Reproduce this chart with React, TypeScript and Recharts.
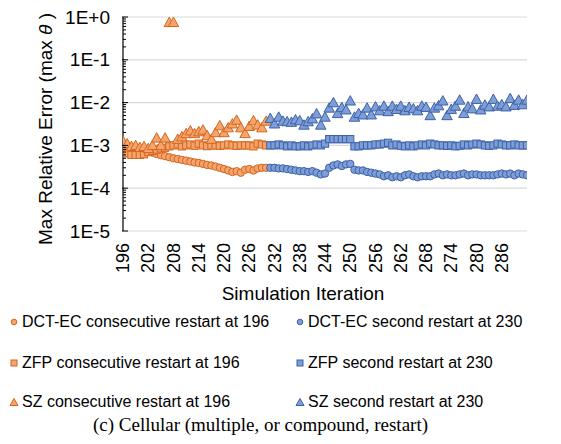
import React from 'react';
import { ScatterChart, Scatter, XAxis, YAxis, CartesianGrid } from 'recharts';

// Iteration at which each restart run begins
const firstRestartStart = 196;
const secondRestartStart = 231;

// Max relative error per iteration, consecutive restart at 196 (196..230)
const dctFirst = [
  9.5e-4, 9.2e-4, 9.0e-4, 8.7e-4, 8.3e-4, 7.8e-4, 7.3e-4, 6.8e-4, 6.3e-4, 5.9e-4,
  5.6e-4, 5.3e-4, 5.0e-4, 4.8e-4, 4.6e-4, 4.4e-4, 4.2e-4, 4.0e-4, 3.9e-4, 3.7e-4,
  3.5e-4, 3.4e-4, 3.2e-4, 3.0e-4, 2.8e-4, 2.6e-4, 2.4e-4, 2.5e-4, 2.3e-4, 2.7e-4,
  2.8e-4, 2.6e-4, 2.9e-4, 3.0e-4, 3.0e-4,
];
const zfpFirst = [
  8.5e-4, 6.5e-4, 6.0e-4, 6.0e-4, 6.0e-4, 6.2e-4, 7.0e-4, 7.5e-4, 8.0e-4, 8.5e-4,
  8.8e-4, 9.5e-4, 1.0e-3, 1.05e-3, 9.5e-4, 1.0e-3, 1.05e-3, 9.8e-4, 1.1e-3, 1.0e-3,
  9.6e-4, 1.0e-3, 1.0e-3, 9.8e-4, 1.0e-3, 1.05e-3, 1.0e-3, 9.8e-4, 1.0e-3, 1.0e-3,
  1.0e-3, 9.5e-4, 1.1e-3, 1.05e-3, 1.0e-3,
];
const szFirst = [
  1.25e-3, 1.1e-3, 9.5e-4, 1.0e-3, 9.0e-4, 9.5e-4, 8.5e-4, 1.0e-3, 1.5e-3, 1.0e-3,
  1.5e-3, 0.75, 0.75, 1.4e-3, 1.6e-3, 1.9e-3, 2.2e-3, 1.9e-3, 2.1e-3, 2.3e-3,
  1.7e-3, 1.4e-3, 2.0e-3, 2.9e-3, 2.0e-3, 2.6e-3, 3.2e-3, 3.9e-3, 2.6e-3, 1.9e-3,
  2.8e-3, 3.8e-3, 3.0e-3, 2.6e-3, 3.7e-3,
];

// Max relative error per iteration, second restart at 230 (231..292)
const dctSecond = [
  3.0e-4, 3.0e-4, 2.9e-4, 2.9e-4, 2.8e-4, 2.7e-4, 2.6e-4, 2.5e-4, 2.5e-4, 2.4e-4,
  2.5e-4, 2.3e-4, 2.1e-4, 2.2e-4, 3.0e-4, 3.4e-4, 3.6e-4, 3.3e-4, 3.6e-4, 3.7e-4,
  2.7e-4, 2.6e-4, 2.6e-4, 2.4e-4, 2.3e-4, 2.2e-4, 2.1e-4, 1.9e-4, 2.0e-4, 1.8e-4,
  1.9e-4, 1.8e-4, 2.0e-4, 2.1e-4, 1.9e-4, 1.8e-4, 1.9e-4, 1.9e-4, 1.9e-4, 2.1e-4,
  2.2e-4, 2.0e-4, 2.1e-4, 2.0e-4, 2.0e-4, 2.1e-4, 2.2e-4, 2.0e-4, 2.1e-4, 2.1e-4,
  2.0e-4, 2.0e-4, 2.0e-4, 2.0e-4, 2.1e-4, 2.2e-4, 2.1e-4, 2.2e-4, 2.0e-4, 2.2e-4,
  2.1e-4, 2.0e-4,
];
const zfpSecond = [
  1.0e-3, 1.0e-3, 1.05e-3, 1.0e-3, 9.5e-4, 1.0e-3, 9.5e-4, 9.5e-4, 1.0e-3, 9.5e-4,
  1.0e-3, 1.05e-3, 1.0e-3, 1.1e-3, 1.4e-3, 1.4e-3, 1.4e-3, 1.4e-3, 1.4e-3, 1.4e-3,
  9.5e-4, 9.5e-4, 1.0e-3, 1.0e-3, 1.0e-3, 1.05e-3, 1.05e-3, 1.1e-3, 1.15e-3, 1.0e-3,
  1.05e-3, 9.8e-4, 9.5e-4, 1.0e-3, 9.5e-4, 1.0e-3, 1.05e-3, 1.0e-3, 1.1e-3, 1.05e-3,
  1.0e-3, 1.0e-3, 9.8e-4, 1.0e-3, 9.5e-4, 9.8e-4, 1.05e-3, 1.0e-3, 1.05e-3, 1.1e-3,
  1.05e-3, 1.0e-3, 9.8e-4, 1.0e-3, 1.1e-3, 1.05e-3, 1.0e-3, 1.0e-3, 1.05e-3, 1.0e-3,
  1.0e-3, 1.0e-3,
];
const szSecond = [
  4.3e-3, 3.2e-3, 4.6e-3, 3.7e-3, 3.6e-3, 3.5e-3, 4.0e-3, 3.8e-3, 3.0e-3, 3.6e-3,
  4.2e-3, 5.5e-3, 3.0e-3, 4.6e-3, 7.5e-3, 1.0e-2, 5.6e-3, 7.7e-3, 6.8e-3, 1.1e-2,
  4.6e-3, 5.6e-3, 5.2e-3, 7.5e-3, 5.2e-3, 8.0e-3, 6.5e-3, 8.3e-3, 6.2e-3, 8.3e-3,
  7.0e-3, 8.3e-3, 6.5e-3, 7.8e-3, 7.2e-3, 6.5e-3, 8.3e-3, 7.8e-3, 5.0e-3, 7.5e-3,
  8.5e-3, 1.1e-2, 5.0e-3, 7.0e-3, 8.3e-3, 1.15e-2, 5.6e-3, 8.0e-3, 7.2e-3, 1.2e-2,
  6.8e-3, 8.8e-3, 8.0e-3, 1.2e-2, 8.3e-3, 9.0e-3, 8.0e-3, 1.25e-2, 8.7e-3, 1.15e-2,
  9.0e-3, 1.15e-2,
];

const xTicks = [196, 202, 208, 214, 220, 226, 232, 238, 244, 250, 256, 262, 268, 274, 280, 286];
const yTicks = [1e-5, 1e-4, 1e-3, 1e-2, 1e-1, 1];
const yMinorTicks = [
  2e-5, 3e-5, 4e-5, 5e-5, 6e-5, 7e-5, 8e-5, 9e-5,
  2e-4, 3e-4, 4e-4, 5e-4, 6e-4, 7e-4, 8e-4, 9e-4,
  2e-3, 3e-3, 4e-3, 5e-3, 6e-3, 7e-3, 8e-3, 9e-3,
  2e-2, 3e-2, 4e-2, 5e-2, 6e-2, 7e-2, 8e-2, 9e-2,
  2e-1, 3e-1, 4e-1, 5e-1, 6e-1, 7e-1, 8e-1, 9e-1,
];
const allYTicks = [...yTicks, ...yMinorTicks].sort((a, b) => a - b);

const toPoints = (start: number, values: number[]) =>
  values.map((err, i) => ({ iter: start + i, err }));

const ORANGE = { fill: '#F4A46C', stroke: '#D4661E' };
const BLUE = { fill: '#7E9ED8', stroke: '#3D61A8' };
const FONT = "'Liberation Sans', Arial, sans-serif";

type Colors = { fill: string; stroke: string };

const circleShape = (c: Colors) => (p: any) =>
  <circle cx={p.cx} cy={p.cy} r={3.7} fill={c.fill} stroke={c.stroke} strokeWidth={1} />;
const squareShape = (c: Colors) => (p: any) =>
  <rect x={p.cx - 3.6} y={p.cy - 3.6} width={7.2} height={7.2} fill={c.fill} stroke={c.stroke} strokeWidth={1} />;
const triangleShape = (c: Colors) => (p: any) =>
  <polygon
    points={`${p.cx},${p.cy - 5.2} ${p.cx + 5.2},${p.cy + 4.2} ${p.cx - 5.2},${p.cy + 4.2}`}
    fill={c.fill} stroke={c.stroke} strokeWidth={1}
  />;

const isDecade = (v: number) => yTicks.some((t) => Math.abs(t - v) / t < 1e-9);

const formatPow = (v: number) => {
  const e = Math.round(Math.log10(v));
  return `1E${e >= 0 ? '+' + e : e}`;
};

// Decade ticks get a label and a longer mark; the log-minor ticks only a short mark
const YTick = (p: any) => {
  const v = p.payload.value;
  if (!isDecade(v)) {
    return <line x1={p.x + 13} x2={p.x + 16} y1={p.y} y2={p.y} stroke="#000" strokeWidth={1} />;
  }
  return (
    <g>
      <text x={p.x} y={p.y} textAnchor="end" dominantBaseline="central" fontSize={19} fontFamily={FONT} fill="#000">
        {formatPow(v)}
      </text>
      <line x1={p.x + 12} x2={p.x + 18} y1={p.y} y2={p.y} stroke="#000" strokeWidth={1} />
    </g>
  );
};

const XTick = (p: any) => (
  <text
    transform={`translate(${p.x},${p.y}) rotate(-90)`}
    textAnchor="end" dominantBaseline="central"
    fontSize={18} fontFamily={FONT} fill="#000"
  >
    {p.payload.value}
  </text>
);

const YTitle = (p: any) => {
  const vb = p.viewBox;
  const cx = vb.x + 45;
  const cy = vb.y + vb.height / 2 + 5;
  return (
    <text
      transform={`translate(${cx},${cy}) rotate(-90)`}
      textAnchor="middle" dominantBaseline="central"
      fontSize={19} fontFamily={FONT} fill="#000"
    >
      Max Relative Error (max <tspan fontStyle="italic">θ</tspan> )
    </text>
  );
};

const XTitle = (p: any) => {
  const vb = p.viewBox;
  return (
    <text
      x={vb.x + vb.width / 2 - 22} y={vb.y + 62}
      textAnchor="middle" dominantBaseline="central"
      fontSize={19} fontFamily={FONT} fill="#000"
    >
      Simulation Iteration
    </text>
  );
};

const legendItems = [
  { label: 'DCT-EC consecutive restart at 196', shape: 'circle', c: ORANGE, col: 0, row: 0 },
  { label: 'DCT-EC second restart at 230', shape: 'circle', c: BLUE, col: 1, row: 0 },
  { label: 'ZFP consecutive restart at 196', shape: 'square', c: ORANGE, col: 0, row: 1 },
  { label: 'ZFP second restart at 230', shape: 'square', c: BLUE, col: 1, row: 1 },
  { label: 'SZ consecutive restart at 196', shape: 'triangle', c: ORANGE, col: 0, row: 2 },
  { label: 'SZ second restart at 230', shape: 'triangle', c: BLUE, col: 1, row: 2 },
];
const legendRowsY = [322, 363, 402];
const legendColsX = [9, 295];

const LegendIcon = ({ shape, c }: { shape: string; c: Colors }) => (
  <svg width={10} height={10} style={{ display: 'block' }}>
    {shape === 'circle' && <circle cx={5} cy={5} r={2.8} fill={c.fill} stroke={c.stroke} strokeWidth={1} />}
    {shape === 'square' && <rect x={2} y={2} width={6} height={6} fill={c.fill} stroke={c.stroke} strokeWidth={1} />}
    {shape === 'triangle' && <polygon points="5,1.5 9,8.5 1,8.5" fill={c.fill} stroke={c.stroke} strokeWidth={1} />}
  </svg>
);

export default function App() {
  return (
    <div style={{ position: 'absolute', left: 0, top: 0, width: 561, height: 444, background: '#fff', fontFamily: FONT }}>
      <ScatterChart width={561} height={310} margin={{ top: 17, right: 34, left: 0, bottom: 10 }}>
        <CartesianGrid horizontal vertical={false} horizontalValues={yTicks} stroke="#D9D9D9" strokeWidth={1.2} />
        <XAxis
          dataKey="iter" type="number" domain={[196, 292]} ticks={xTicks} interval={0}
          axisLine={false} tickLine={false} tickSize={0} tickMargin={12} height={69}
          tick={<XTick />} allowDataOverflow label={XTitle}
        />
        <YAxis
          dataKey="err" type="number" scale="log" domain={[1e-5, 1]} ticks={allYTicks} interval={0}
          width={123} axisLine={{ stroke: '#000', strokeWidth: 1.2 }} tickLine={false}
          tickSize={0} tickMargin={13} tick={<YTick />} allowDataOverflow label={YTitle}
        />
        <Scatter data={toPoints(firstRestartStart, dctFirst)} shape={circleShape(ORANGE)} isAnimationActive={false} />
        <Scatter data={toPoints(secondRestartStart, dctSecond)} shape={circleShape(BLUE)} isAnimationActive={false} />
        <Scatter data={toPoints(firstRestartStart, zfpFirst)} shape={squareShape(ORANGE)} isAnimationActive={false} />
        <Scatter data={toPoints(secondRestartStart, zfpSecond)} shape={squareShape(BLUE)} isAnimationActive={false} />
        <Scatter data={toPoints(firstRestartStart, szFirst)} shape={triangleShape(ORANGE)} isAnimationActive={false} />
        <Scatter data={toPoints(secondRestartStart, szSecond)} shape={triangleShape(BLUE)} isAnimationActive={false} />
      </ScatterChart>

      {legendItems.map((it) => (
        <div
          key={it.label}
          style={{
            position: 'absolute', left: legendColsX[it.col], top: legendRowsY[it.row] - 11, height: 22,
            display: 'flex', alignItems: 'center', whiteSpace: 'nowrap', fontSize: 16, color: '#000',
          }}
        >
          <LegendIcon shape={it.shape} c={it.c} />
          <span style={{ marginLeft: 3 }}>{it.label}</span>
        </div>
      ))}

      <div
        style={{
          position: 'absolute', left: 0, width: 521, top: 414, textAlign: 'center',
          fontFamily: "'Liberation Serif', 'Times New Roman', serif", fontSize: 19, lineHeight: '22px', color: '#000',
        }}
      >
        (c) Cellular (multiple, or compound, restart)
      </div>
    </div>
  );
}
